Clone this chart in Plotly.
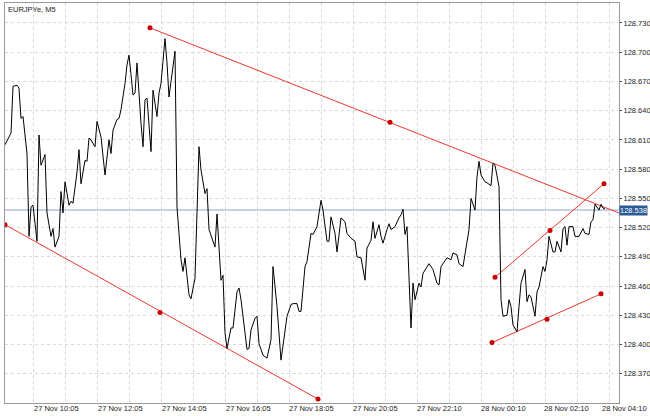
import plotly.graph_objects as go

# EURJPYe M5 close prices (bar index, price)
bars = [0, 3, 4, 6, 7, 8, 9, 11, 12, 13, 14, 16, 17, 18, 20, 21, 23, 24, 25, 27, 28, 29, 30, 32, 33, 34,
        36, 37, 38, 40, 41, 42, 43, 45, 46, 48, 50, 52, 53, 54, 56, 57, 58, 60, 61, 62, 63, 64, 65, 66,
        68, 69, 70, 71, 73, 74, 76, 77, 78, 80, 81, 82, 83, 85, 86, 88, 89, 90, 92, 93, 95, 96, 97, 98,
        100, 101, 102,
        105, 106, 108, 109, 110, 111, 113, 114, 116, 117, 118, 121, 122, 123, 125, 126, 127, 129, 131,
        133, 134, 136, 138, 141, 143, 144, 146, 147, 148, 150, 151, 153, 154, 156, 158, 159, 161, 162,
        163, 165, 166, 168, 170, 171, 173, 175, 176, 178, 180, 181, 183, 184, 185, 187, 188, 189, 191,
        192, 193, 195, 197, 198, 199, 200, 201, 203, 204, 205, 207, 208, 209, 211, 212,
        214, 216, 217, 218, 219, 221, 223, 224, 226, 227, 229, 231, 232, 233, 235, 236, 237, 238, 240,
        241, 243, 244, 245, 247, 248, 249, 251, 252, 253, 254, 256, 257, 258, 260, 261, 262, 263, 265,
        266, 267, 269, 270, 271, 272, 274, 275, 276, 278, 279, 280, 281, 282, 284, 285, 287, 289, 290,
        292, 293, 294, 295, 297, 298, 299, 300]
prices = [128.605, 128.617, 128.665, 128.666, 128.663, 128.632, 128.634, 128.596, 128.511, 128.541,
          128.543, 128.506, 128.615, 128.584, 128.595, 128.535, 128.511, 128.519, 128.500, 128.511,
          128.557, 128.535, 128.567, 128.543, 128.547, 128.545, 128.577, 128.600, 128.565, 128.589,
          128.588, 128.612, 128.610, 128.603, 128.629, 128.613, 128.574, 128.610, 128.596, 128.620,
          128.631, 128.632, 128.641, 128.668, 128.687, 128.697, 128.677, 128.656, 128.658, 128.689,
          128.627, 128.603, 128.651, 128.653, 128.598, 128.661, 128.634, 128.658, 128.668, 128.714,
          128.689, 128.654, 128.670, 128.701, 128.541, 128.487, 128.475, 128.489, 128.451, 128.447,
          128.468, 128.548, 128.603, 128.579, 128.555, 128.560, 128.518,
          128.500, 128.534, 128.466, 128.471, 128.412, 128.396, 128.417, 128.417, 128.454, 128.458,
          128.446, 128.395, 128.396, 128.415, 128.427, 128.429, 128.401, 128.389, 128.386, 128.405,
          128.480, 128.439, 128.384, 128.429, 128.441, 128.442, 128.442, 128.434, 128.434, 128.480,
          128.485, 128.514, 128.513, 128.521, 128.548, 128.538, 128.506, 128.506, 128.531, 128.514,
          128.495, 128.530, 128.526, 128.514, 128.509, 128.506, 128.490, 128.489, 128.466, 128.499,
          128.507, 128.526, 128.509, 128.523, 128.511, 128.504, 128.518, 128.524, 128.518, 128.521,
          128.530, 128.533, 128.539, 128.513, 128.521, 128.417, 128.463, 128.446, 128.463, 128.459,
          128.473, 128.480, 128.483, 128.477, 128.463, 128.461, 128.480, 128.483, 128.489, 128.487,
          128.494, 128.492, 128.483, 128.480, 128.504, 128.518, 128.550, 128.538, 128.572, 128.588,
          128.574, 128.567, 128.566, 128.563, 128.586, 128.584, 128.562, 128.446, 128.429, 128.430,
          128.446, 128.439, 128.420, 128.413, 128.439, 128.463, 128.477, 128.444, 128.451, 128.449,
          128.429, 128.454, 128.459, 128.480, 128.475, 128.487, 128.511, 128.495, 128.495, 128.506,
          128.495, 128.519, 128.521, 128.502, 128.521, 128.521, 128.511, 128.511, 128.519, 128.514,
          128.513, 128.526, 128.528, 128.544, 128.538, 128.544, 128.540, 128.539]

current_price = 128.538
y_ticks = [128.370, 128.400, 128.430, 128.460, 128.490, 128.520, 128.550, 128.580, 128.610,
           128.640, 128.670, 128.700, 128.730]
time_bars = [14, 46, 78, 110, 141.5, 173.5, 205.5, 237.5, 269, 301]
time_labels = ["27 Nov 10:05", "27 Nov 12:05", "27 Nov 14:05", "27 Nov 16:05", "27 Nov 18:05",
               "27 Nov 20:05", "27 Nov 22:10", "28 Nov 00:10", "28 Nov 02:10", "28 Nov 04:10"]

# trend lines: (bars, prices, marker bars, marker prices)
trend_lines = [
    ([72.5, 307], [128.725, 128.535], [72.5, 192.5], [128.725, 128.628]),
    ([0, 156.5], [128.523, 128.344], [0, 77.5, 156.5], [128.523, 128.433, 128.344]),
    ([245, 299.5], [128.469, 128.565], [245, 272.5, 299.5], [128.469, 128.517, 128.565]),
    ([243.5, 298], [128.402, 128.452], [243.5, 271, 298], [128.402, 128.426, 128.452]),
]

fig = go.Figure()
fig.add_hline(y=current_price, line=dict(color="#b4c0dc", width=1.5), layer="below")

for lx, ly, mx, my in trend_lines:
    fig.add_trace(go.Scatter(x=lx, y=ly, mode="lines", line=dict(color="#e8392f", width=1),
                             hoverinfo="skip"))
    fig.add_trace(go.Scatter(x=mx, y=my, mode="markers", marker=dict(color="#cc0000", size=5),
                             hoverinfo="skip"))

fig.add_trace(go.Scatter(x=bars, y=prices, mode="lines", line=dict(color="black", width=1)))

for i, (b, t) in enumerate(zip(time_bars, time_labels)):
    last = i == len(time_labels) - 1
    # the last label is pushed back so it stays inside the page
    fig.add_annotation(x=1 if last else b, xref="paper" if last else "x", y=0, yref="paper",
                       yanchor="top", xanchor="right" if last else "left", xshift=29 if last else 0,
                       text=t, showarrow=False, font=dict(size=7.5, color="#222"), borderpad=0)

fig.add_annotation(x=1, y=current_price, xref="paper", yref="y", xanchor="left",
                   text=f"{current_price:.3f}", showarrow=False, bgcolor="#2c5a96",
                   font=dict(size=7.5, color="white"), borderpad=0, xshift=0)
fig.add_annotation(x=0, y=1, xref="paper", yref="paper", xanchor="left", yanchor="top",
                   text="EURJPYe, M5", showarrow=False, font=dict(size=7.5, color="#222"), xshift=1)

fig.update_layout(
    width=650, height=416, showlegend=False,
    margin=dict(l=5, r=31, t=3, b=13, autoexpand=False),
    plot_bgcolor="white", paper_bgcolor="white",
    font=dict(family="Liberation Sans"),
    xaxis=dict(range=[0, 307], tick0=14, dtick=16, showticklabels=False, ticks="",
               showgrid=True, gridcolor="#d8d8d8", griddash="dot", zeroline=False,
               showline=True, linecolor="#999", mirror=True, automargin=False),
    yaxis=dict(range=[128.340, 128.7505], side="right", tickvals=y_ticks,
               ticktext=[f"{v:.3f}" for v in y_ticks], ticks="outside", ticklen=2,
               tickfont=dict(size=7.5, color="#222"), showgrid=True, gridcolor="#d8d8d8",
               griddash="dot", zeroline=False, showline=True, linecolor="#999", mirror=True,
               automargin=False),
)

fig.write_html("out.html", config={"displayModeBar": False},
               post_script="document.body.style.margin='0';")
